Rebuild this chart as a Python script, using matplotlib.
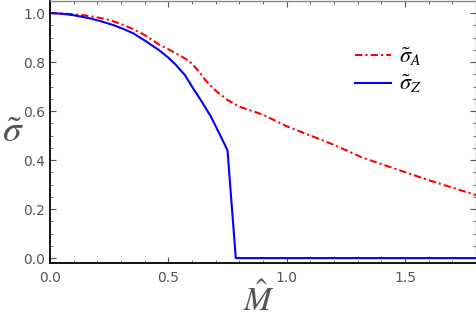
import matplotlib
matplotlib.use("Agg")
import matplotlib.pyplot as plt
from matplotlib.ticker import MultipleLocator

plt.rcParams['mathtext.fontset'] = 'stix'

M_A = [0.0, 0.05, 0.1, 0.15, 0.2, 0.25, 0.3, 0.35, 0.4, 0.46, 0.5, 0.57, 0.6, 0.63, 0.66, 0.7, 0.75, 0.8, 0.9, 1.0, 1.2, 1.32, 1.45, 1.6, 1.8]
sig_A = [1.0, 0.998, 0.995, 0.99, 0.982, 0.972, 0.955, 0.935, 0.91, 0.872, 0.852, 0.815, 0.793, 0.76, 0.722, 0.683, 0.645, 0.618, 0.585, 0.538, 0.462, 0.41, 0.367, 0.318, 0.257]

M_Z = [0.0, 0.05, 0.1, 0.17, 0.22, 0.27, 0.31, 0.35, 0.4, 0.46, 0.5, 0.53, 0.57, 0.6, 0.64, 0.68, 0.73, 0.75, 0.785, 1.0, 1.8]
sig_Z = [1.0, 0.997, 0.991, 0.978, 0.965, 0.95, 0.935, 0.918, 0.888, 0.849, 0.818, 0.79, 0.747, 0.7, 0.64, 0.577, 0.48, 0.44, 0.0, 0.0, 0.0]

xticks = [0.0, 0.5, 1.0, 1.5]
yticks = [0.0, 0.2, 0.4, 0.6, 0.8, 1.0]

fig = plt.figure(figsize=(4.77, 3.27), dpi=100)
ax = fig.add_axes([50/477, 64/327, 426/477, 262/327])
ax.plot(M_A, sig_A, color='red', lw=1.5, linestyle=(0, (3.5, 1.5, 1, 1.5)), label=r'$\tilde{\sigma}_A$')
ax.plot(M_Z, sig_Z, color='blue', lw=1.5, label=r'$\tilde{\sigma}_Z$')
ax.set_xlim(0, 1.8)
ax.set_ylim(-0.02, 1.049)
ax.set_xticks(xticks)
ax.set_yticks(yticks)
ax.set_xticklabels([f"{v:.1f}" for v in xticks])
ax.set_yticklabels([f"{v:.1f}" for v in yticks])
ax.xaxis.set_minor_locator(MultipleLocator(0.1))
ax.yaxis.set_minor_locator(MultipleLocator(0.05))
ax.tick_params(which='both', direction='in', top=True, right=True, color='#555555',
               labelcolor='#555555', labelsize=10, labeltop=False, labelright=False)
ax.tick_params(which='major', length=4, width=0.8)
ax.tick_params(which='minor', length=2.5, width=0.6)
ax.tick_params(axis='x', pad=6)
for s in ['left', 'bottom']:
    ax.spines[s].set_color('black')
    ax.spines[s].set_linewidth(1.3)
for s in ['top', 'right']:
    ax.spines[s].set_color('#888888')
    ax.spines[s].set_linewidth(1.0)

ax.set_ylabel(r'$\tilde{\sigma}$', fontsize=27, color='#555555', rotation=0, va='center', ha='center')
ax.yaxis.set_label_coords(-0.087, 0.50)
ax.set_xlabel(r'$\hat{M}$', fontsize=24, color='#555555', va='center')
ax.xaxis.set_label_coords(0.49, -0.14)
leg = ax.legend(loc='upper left', bbox_to_anchor=(0.669, 0.905), frameon=False, fontsize=16,
                handlelength=1.6, labelspacing=0.22, handletextpad=0.4)
fig.savefig('out.png', dpi=100)
